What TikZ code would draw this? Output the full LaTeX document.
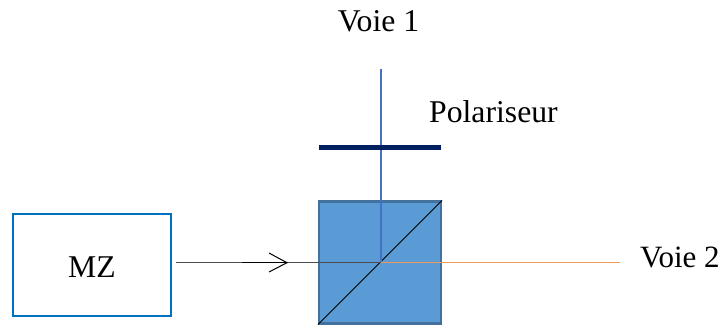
\documentclass[tikz,border=0pt]{standalone}
\usepackage{fontspec}
\setmainfont{Liberation Serif}
\definecolor{cubefill}{HTML}{5B9BD5}
\definecolor{cubeedge}{HTML}{41719C}
\definecolor{mzedge}{HTML}{0070C0}
\definecolor{beamblue}{HTML}{4472C4}
\definecolor{beamorange}{HTML}{ED9A5B}
\definecolor{polcol}{HTML}{002060}
\tikzset{lbl/.style={inner sep=0pt,anchor=base,font=\fontsize{31.7}{34}\selectfont,text=black}}
\begin{document}
\begin{tikzpicture}[x=1pt,y=-1pt]
\useasboundingbox (0,0) rectangle (721,329);
\node[draw=mzedge,line width=2.2pt,minimum width=158pt,minimum height=102pt,inner sep=0pt] (mz) at (92,265) {};
\node[draw=cubeedge,line width=2.2pt,fill=cubefill,minimum width=122pt,minimum height=122pt,inner sep=0pt] (cube) at (380,262.5) {};
\coordinate (c) at (381,262.7);
\coordinate (top) at (381,69);
\coordinate (in) at (176,262.7);
\coordinate (mid) at (242,262.7);
\coordinate (tip) at (287,262.7);
\coordinate (out) at (620,262.7);
\coordinate (pl) at (319,147.5);
\coordinate (pr) at (441,147.5);
\coordinate (au) at (269,253);
\coordinate (ad) at (269,272);
\draw[black,line width=1pt] (cube.south west) -- (cube.north east);
\draw[beamblue,line width=2.2pt] (top) -- (c);
\draw[polcol,line width=4.6pt] (pl) -- (pr);
\draw[beamorange,line width=1.2pt] (c) -- (out);
\draw[black!70,line width=1.2pt] (in) -- (c);
\draw[black,line width=1.2pt] (mid) -- (tip);
\draw[black,line width=1pt] (au) -- (tip) -- (ad);
\node[lbl] (v1) at (378.5,32) {Voie 1};
\node[lbl,anchor=base west] (pol) at (429,122) {Polariseur};
\node[lbl,anchor=base west,font=\fontsize{31}{34}\selectfont] (v2) at (640,267) {Voie 2};
\node[lbl] (mzt) at (92,277) {MZ};
\end{tikzpicture}
\end{document}
